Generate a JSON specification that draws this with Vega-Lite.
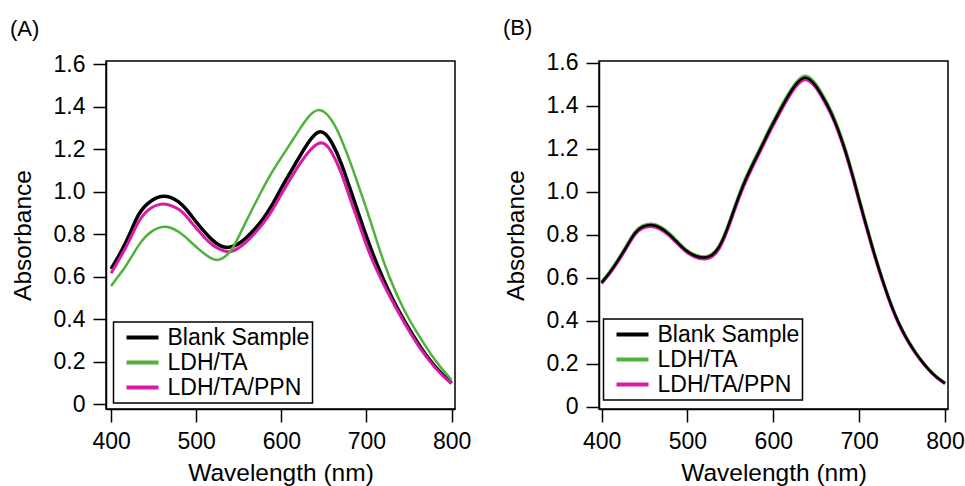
{
  "$schema": "https://vega.github.io/schema/vega-lite/v6.json",
  "background": "white",
  "padding": {"left": 9, "top": 15, "right": 2, "bottom": 5},
  "bounds": "flush",
  "spacing": 144,
  "resolve": {"scale": {"color": "independent"}, "legend": {"color": "independent"}},
  "hconcat": [
    {
      "title": {"text": "(A)"},
      "width": 349,
      "height": 348,
      "data": {"values": [
        {"s": "Blank Sample", "wl": 400, "a": 0.637}, {"s": "Blank Sample", "wl": 408, "a": 0.69}, {"s": "Blank Sample", "wl": 417, "a": 0.758}, {"s": "Blank Sample", "wl": 425, "a": 0.83}, {"s": "Blank Sample", "wl": 432, "a": 0.895}, {"s": "Blank Sample", "wl": 440, "a": 0.935}, {"s": "Blank Sample", "wl": 448, "a": 0.961}, {"s": "Blank Sample", "wl": 455, "a": 0.975}, {"s": "Blank Sample", "wl": 462, "a": 0.98}, {"s": "Blank Sample", "wl": 470, "a": 0.975}, {"s": "Blank Sample", "wl": 480, "a": 0.953}, {"s": "Blank Sample", "wl": 488, "a": 0.92}, {"s": "Blank Sample", "wl": 495, "a": 0.883}, {"s": "Blank Sample", "wl": 503, "a": 0.843}, {"s": "Blank Sample", "wl": 511, "a": 0.805}, {"s": "Blank Sample", "wl": 518, "a": 0.775}, {"s": "Blank Sample", "wl": 526, "a": 0.75}, {"s": "Blank Sample", "wl": 533, "a": 0.738}, {"s": "Blank Sample", "wl": 538, "a": 0.737}, {"s": "Blank Sample", "wl": 545, "a": 0.745}, {"s": "Blank Sample", "wl": 552, "a": 0.76}, {"s": "Blank Sample", "wl": 558, "a": 0.781}, {"s": "Blank Sample", "wl": 568, "a": 0.82}, {"s": "Blank Sample", "wl": 578, "a": 0.867}, {"s": "Blank Sample", "wl": 590, "a": 0.94}, {"s": "Blank Sample", "wl": 600, "a": 1.02}, {"s": "Blank Sample", "wl": 612, "a": 1.1}, {"s": "Blank Sample", "wl": 622, "a": 1.17}, {"s": "Blank Sample", "wl": 634, "a": 1.248}, {"s": "Blank Sample", "wl": 644, "a": 1.29}, {"s": "Blank Sample", "wl": 652, "a": 1.275}, {"s": "Blank Sample", "wl": 660, "a": 1.23}, {"s": "Blank Sample", "wl": 670, "a": 1.142}, {"s": "Blank Sample", "wl": 681, "a": 1.01}, {"s": "Blank Sample", "wl": 690, "a": 0.905}, {"s": "Blank Sample", "wl": 697, "a": 0.822}, {"s": "Blank Sample", "wl": 709, "a": 0.69}, {"s": "Blank Sample", "wl": 720, "a": 0.585}, {"s": "Blank Sample", "wl": 730, "a": 0.5}, {"s": "Blank Sample", "wl": 740, "a": 0.425}, {"s": "Blank Sample", "wl": 750, "a": 0.355}, {"s": "Blank Sample", "wl": 760, "a": 0.29}, {"s": "Blank Sample", "wl": 770, "a": 0.23}, {"s": "Blank Sample", "wl": 780, "a": 0.18}, {"s": "Blank Sample", "wl": 790, "a": 0.137}, {"s": "Blank Sample", "wl": 800, "a": 0.1},
        {"s": "LDH/TA/PPN", "wl": 400, "a": 0.617}, {"s": "LDH/TA/PPN", "wl": 408, "a": 0.672}, {"s": "LDH/TA/PPN", "wl": 417, "a": 0.734}, {"s": "LDH/TA/PPN", "wl": 425, "a": 0.8}, {"s": "LDH/TA/PPN", "wl": 432, "a": 0.86}, {"s": "LDH/TA/PPN", "wl": 440, "a": 0.903}, {"s": "LDH/TA/PPN", "wl": 448, "a": 0.928}, {"s": "LDH/TA/PPN", "wl": 455, "a": 0.939}, {"s": "LDH/TA/PPN", "wl": 462, "a": 0.944}, {"s": "LDH/TA/PPN", "wl": 470, "a": 0.937}, {"s": "LDH/TA/PPN", "wl": 480, "a": 0.918}, {"s": "LDH/TA/PPN", "wl": 488, "a": 0.888}, {"s": "LDH/TA/PPN", "wl": 495, "a": 0.852}, {"s": "LDH/TA/PPN", "wl": 503, "a": 0.815}, {"s": "LDH/TA/PPN", "wl": 511, "a": 0.778}, {"s": "LDH/TA/PPN", "wl": 518, "a": 0.752}, {"s": "LDH/TA/PPN", "wl": 526, "a": 0.732}, {"s": "LDH/TA/PPN", "wl": 533, "a": 0.72}, {"s": "LDH/TA/PPN", "wl": 541, "a": 0.716}, {"s": "LDH/TA/PPN", "wl": 548, "a": 0.73}, {"s": "LDH/TA/PPN", "wl": 558, "a": 0.758}, {"s": "LDH/TA/PPN", "wl": 568, "a": 0.8}, {"s": "LDH/TA/PPN", "wl": 578, "a": 0.846}, {"s": "LDH/TA/PPN", "wl": 590, "a": 0.915}, {"s": "LDH/TA/PPN", "wl": 600, "a": 0.99}, {"s": "LDH/TA/PPN", "wl": 612, "a": 1.07}, {"s": "LDH/TA/PPN", "wl": 622, "a": 1.135}, {"s": "LDH/TA/PPN", "wl": 634, "a": 1.2}, {"s": "LDH/TA/PPN", "wl": 645, "a": 1.236}, {"s": "LDH/TA/PPN", "wl": 652, "a": 1.225}, {"s": "LDH/TA/PPN", "wl": 658, "a": 1.197}, {"s": "LDH/TA/PPN", "wl": 670, "a": 1.1}, {"s": "LDH/TA/PPN", "wl": 681, "a": 0.963}, {"s": "LDH/TA/PPN", "wl": 690, "a": 0.865}, {"s": "LDH/TA/PPN", "wl": 697, "a": 0.781}, {"s": "LDH/TA/PPN", "wl": 707, "a": 0.673}, {"s": "LDH/TA/PPN", "wl": 720, "a": 0.565}, {"s": "LDH/TA/PPN", "wl": 730, "a": 0.488}, {"s": "LDH/TA/PPN", "wl": 740, "a": 0.415}, {"s": "LDH/TA/PPN", "wl": 750, "a": 0.345}, {"s": "LDH/TA/PPN", "wl": 760, "a": 0.28}, {"s": "LDH/TA/PPN", "wl": 770, "a": 0.225}, {"s": "LDH/TA/PPN", "wl": 780, "a": 0.175}, {"s": "LDH/TA/PPN", "wl": 790, "a": 0.132}, {"s": "LDH/TA/PPN", "wl": 800, "a": 0.097},
        {"s": "LDH/TA", "wl": 400, "a": 0.557}, {"s": "LDH/TA", "wl": 408, "a": 0.6}, {"s": "LDH/TA", "wl": 417, "a": 0.648}, {"s": "LDH/TA", "wl": 425, "a": 0.7}, {"s": "LDH/TA", "wl": 432, "a": 0.748}, {"s": "LDH/TA", "wl": 440, "a": 0.788}, {"s": "LDH/TA", "wl": 448, "a": 0.816}, {"s": "LDH/TA", "wl": 455, "a": 0.83}, {"s": "LDH/TA", "wl": 463, "a": 0.837}, {"s": "LDH/TA", "wl": 470, "a": 0.832}, {"s": "LDH/TA", "wl": 480, "a": 0.812}, {"s": "LDH/TA", "wl": 488, "a": 0.785}, {"s": "LDH/TA", "wl": 495, "a": 0.758}, {"s": "LDH/TA", "wl": 503, "a": 0.73}, {"s": "LDH/TA", "wl": 511, "a": 0.703}, {"s": "LDH/TA", "wl": 518, "a": 0.685}, {"s": "LDH/TA", "wl": 524, "a": 0.676}, {"s": "LDH/TA", "wl": 531, "a": 0.685}, {"s": "LDH/TA", "wl": 538, "a": 0.708}, {"s": "LDH/TA", "wl": 544, "a": 0.742}, {"s": "LDH/TA", "wl": 550, "a": 0.789}, {"s": "LDH/TA", "wl": 557, "a": 0.848}, {"s": "LDH/TA", "wl": 565, "a": 0.912}, {"s": "LDH/TA", "wl": 575, "a": 0.99}, {"s": "LDH/TA", "wl": 583, "a": 1.05}, {"s": "LDH/TA", "wl": 590, "a": 1.1}, {"s": "LDH/TA", "wl": 603, "a": 1.18}, {"s": "LDH/TA", "wl": 612, "a": 1.235}, {"s": "LDH/TA", "wl": 622, "a": 1.298}, {"s": "LDH/TA", "wl": 632, "a": 1.356}, {"s": "LDH/TA", "wl": 642, "a": 1.39}, {"s": "LDH/TA", "wl": 650, "a": 1.38}, {"s": "LDH/TA", "wl": 658, "a": 1.346}, {"s": "LDH/TA", "wl": 666, "a": 1.29}, {"s": "LDH/TA", "wl": 673, "a": 1.222}, {"s": "LDH/TA", "wl": 681, "a": 1.14}, {"s": "LDH/TA", "wl": 689, "a": 1.048}, {"s": "LDH/TA", "wl": 697, "a": 0.955}, {"s": "LDH/TA", "wl": 705, "a": 0.859}, {"s": "LDH/TA", "wl": 715, "a": 0.73}, {"s": "LDH/TA", "wl": 725, "a": 0.615}, {"s": "LDH/TA", "wl": 740, "a": 0.475}, {"s": "LDH/TA", "wl": 750, "a": 0.4}, {"s": "LDH/TA", "wl": 760, "a": 0.333}, {"s": "LDH/TA", "wl": 770, "a": 0.27}, {"s": "LDH/TA", "wl": 780, "a": 0.21}, {"s": "LDH/TA", "wl": 790, "a": 0.16}, {"s": "LDH/TA", "wl": 800, "a": 0.114}
      ]},
      "encoding": {
        "x": {"field": "wl", "type": "quantitative", "scale": {"domain": [394, 804], "nice": false, "zero": false}, "axis": {"values": [400, 500, 600, 700, 800], "title": "Wavelength (nm)"}},
        "y": {"field": "a", "type": "quantitative", "scale": {"domain": [-0.022, 1.615], "nice": false}, "axis": {"values": [0, 0.2, 0.4, 0.6, 0.8, 1.0, 1.2, 1.4, 1.6], "labelExpr": "datum.value == 0 ? '0' : format(datum.value, '.1f')", "title": "Absorbance"}},
        "color": {"field": "s", "type": "nominal", "scale": {"domain": ["Blank Sample", "LDH/TA", "LDH/TA/PPN"], "range": ["#000000", "#4fb23a", "#d91aaa"]}, "legend": {"orient": "none", "legendX": 7.5, "legendY": 261, "title": null}}
      },
      "layer": [
        {"transform": [{"filter": "datum.s == 'Blank Sample'"}], "mark": {"type": "line", "interpolate": "basis", "strokeWidth": 3.5}},
        {"transform": [{"filter": "datum.s == 'LDH/TA/PPN'"}], "mark": {"type": "line", "interpolate": "basis", "strokeWidth": 3}},
        {"transform": [{"filter": "datum.s == 'LDH/TA'"}], "mark": {"type": "line", "interpolate": "basis", "strokeWidth": 2.5}}
      ]
    },
    {
      "title": {"text": "(B)"},
      "width": 349,
      "height": 348,
      "data": {"values": [
        {"s": "LDH/TA", "wl": 400, "a": 0.58}, {"s": "LDH/TA", "wl": 410, "a": 0.629}, {"s": "LDH/TA", "wl": 419.5, "a": 0.686}, {"s": "LDH/TA", "wl": 430, "a": 0.755}, {"s": "LDH/TA", "wl": 439, "a": 0.819}, {"s": "LDH/TA", "wl": 448, "a": 0.845}, {"s": "LDH/TA", "wl": 458, "a": 0.853}, {"s": "LDH/TA", "wl": 468, "a": 0.84}, {"s": "LDH/TA", "wl": 478, "a": 0.811}, {"s": "LDH/TA", "wl": 488, "a": 0.77}, {"s": "LDH/TA", "wl": 497, "a": 0.733}, {"s": "LDH/TA", "wl": 508, "a": 0.704}, {"s": "LDH/TA", "wl": 520, "a": 0.694}, {"s": "LDH/TA", "wl": 528, "a": 0.704}, {"s": "LDH/TA", "wl": 536, "a": 0.737}, {"s": "LDH/TA", "wl": 544, "a": 0.806}, {"s": "LDH/TA", "wl": 552, "a": 0.897}, {"s": "LDH/TA", "wl": 560, "a": 0.987}, {"s": "LDH/TA", "wl": 567, "a": 1.058}, {"s": "LDH/TA", "wl": 577, "a": 1.143}, {"s": "LDH/TA", "wl": 587, "a": 1.222}, {"s": "LDH/TA", "wl": 596, "a": 1.298}, {"s": "LDH/TA", "wl": 606, "a": 1.373}, {"s": "LDH/TA", "wl": 614, "a": 1.432}, {"s": "LDH/TA", "wl": 622, "a": 1.485}, {"s": "LDH/TA", "wl": 628, "a": 1.516}, {"s": "LDH/TA", "wl": 635, "a": 1.542}, {"s": "LDH/TA", "wl": 642, "a": 1.535}, {"s": "LDH/TA", "wl": 649, "a": 1.506}, {"s": "LDH/TA", "wl": 658, "a": 1.448}, {"s": "LDH/TA", "wl": 668, "a": 1.373}, {"s": "LDH/TA", "wl": 676, "a": 1.293}, {"s": "LDH/TA", "wl": 684, "a": 1.2}, {"s": "LDH/TA", "wl": 692, "a": 1.09}, {"s": "LDH/TA", "wl": 699, "a": 0.985}, {"s": "LDH/TA", "wl": 707, "a": 0.867}, {"s": "LDH/TA", "wl": 715, "a": 0.752}, {"s": "LDH/TA", "wl": 723, "a": 0.645}, {"s": "LDH/TA", "wl": 731, "a": 0.547}, {"s": "LDH/TA", "wl": 738, "a": 0.468}, {"s": "LDH/TA", "wl": 746, "a": 0.391}, {"s": "LDH/TA", "wl": 754, "a": 0.328}, {"s": "LDH/TA", "wl": 762, "a": 0.274}, {"s": "LDH/TA", "wl": 771, "a": 0.222}, {"s": "LDH/TA", "wl": 781, "a": 0.174}, {"s": "LDH/TA", "wl": 790, "a": 0.138}, {"s": "LDH/TA", "wl": 800, "a": 0.111},
        {"s": "LDH/TA/PPN", "wl": 400, "a": 0.573}, {"s": "LDH/TA/PPN", "wl": 410, "a": 0.62}, {"s": "LDH/TA/PPN", "wl": 419.5, "a": 0.676}, {"s": "LDH/TA/PPN", "wl": 430, "a": 0.744}, {"s": "LDH/TA/PPN", "wl": 439, "a": 0.807}, {"s": "LDH/TA/PPN", "wl": 448, "a": 0.833}, {"s": "LDH/TA/PPN", "wl": 458, "a": 0.841}, {"s": "LDH/TA/PPN", "wl": 468, "a": 0.829}, {"s": "LDH/TA/PPN", "wl": 478, "a": 0.8}, {"s": "LDH/TA/PPN", "wl": 488, "a": 0.759}, {"s": "LDH/TA/PPN", "wl": 497, "a": 0.723}, {"s": "LDH/TA/PPN", "wl": 508, "a": 0.694}, {"s": "LDH/TA/PPN", "wl": 520, "a": 0.684}, {"s": "LDH/TA/PPN", "wl": 528, "a": 0.693}, {"s": "LDH/TA/PPN", "wl": 536, "a": 0.723}, {"s": "LDH/TA/PPN", "wl": 544, "a": 0.79}, {"s": "LDH/TA/PPN", "wl": 552, "a": 0.88}, {"s": "LDH/TA/PPN", "wl": 560, "a": 0.97}, {"s": "LDH/TA/PPN", "wl": 567, "a": 1.041}, {"s": "LDH/TA/PPN", "wl": 577, "a": 1.125}, {"s": "LDH/TA/PPN", "wl": 587, "a": 1.204}, {"s": "LDH/TA/PPN", "wl": 596, "a": 1.28}, {"s": "LDH/TA/PPN", "wl": 606, "a": 1.355}, {"s": "LDH/TA/PPN", "wl": 614, "a": 1.414}, {"s": "LDH/TA/PPN", "wl": 622, "a": 1.467}, {"s": "LDH/TA/PPN", "wl": 628, "a": 1.498}, {"s": "LDH/TA/PPN", "wl": 635, "a": 1.524}, {"s": "LDH/TA/PPN", "wl": 642, "a": 1.518}, {"s": "LDH/TA/PPN", "wl": 649, "a": 1.49}, {"s": "LDH/TA/PPN", "wl": 658, "a": 1.432}, {"s": "LDH/TA/PPN", "wl": 668, "a": 1.357}, {"s": "LDH/TA/PPN", "wl": 676, "a": 1.277}, {"s": "LDH/TA/PPN", "wl": 684, "a": 1.184}, {"s": "LDH/TA/PPN", "wl": 692, "a": 1.074}, {"s": "LDH/TA/PPN", "wl": 699, "a": 0.969}, {"s": "LDH/TA/PPN", "wl": 707, "a": 0.852}, {"s": "LDH/TA/PPN", "wl": 715, "a": 0.739}, {"s": "LDH/TA/PPN", "wl": 723, "a": 0.633}, {"s": "LDH/TA/PPN", "wl": 731, "a": 0.537}, {"s": "LDH/TA/PPN", "wl": 738, "a": 0.459}, {"s": "LDH/TA/PPN", "wl": 746, "a": 0.383}, {"s": "LDH/TA/PPN", "wl": 754, "a": 0.321}, {"s": "LDH/TA/PPN", "wl": 762, "a": 0.268}, {"s": "LDH/TA/PPN", "wl": 771, "a": 0.217}, {"s": "LDH/TA/PPN", "wl": 781, "a": 0.169}, {"s": "LDH/TA/PPN", "wl": 790, "a": 0.134}, {"s": "LDH/TA/PPN", "wl": 800, "a": 0.107},
        {"s": "Blank Sample", "wl": 400, "a": 0.577}, {"s": "Blank Sample", "wl": 410, "a": 0.625}, {"s": "Blank Sample", "wl": 419.5, "a": 0.682}, {"s": "Blank Sample", "wl": 430, "a": 0.75}, {"s": "Blank Sample", "wl": 439, "a": 0.814}, {"s": "Blank Sample", "wl": 448, "a": 0.84}, {"s": "Blank Sample", "wl": 458, "a": 0.848}, {"s": "Blank Sample", "wl": 468, "a": 0.835}, {"s": "Blank Sample", "wl": 478, "a": 0.806}, {"s": "Blank Sample", "wl": 488, "a": 0.765}, {"s": "Blank Sample", "wl": 497, "a": 0.729}, {"s": "Blank Sample", "wl": 508, "a": 0.7}, {"s": "Blank Sample", "wl": 520, "a": 0.69}, {"s": "Blank Sample", "wl": 528, "a": 0.7}, {"s": "Blank Sample", "wl": 536, "a": 0.732}, {"s": "Blank Sample", "wl": 544, "a": 0.8}, {"s": "Blank Sample", "wl": 552, "a": 0.89}, {"s": "Blank Sample", "wl": 560, "a": 0.98}, {"s": "Blank Sample", "wl": 567, "a": 1.051}, {"s": "Blank Sample", "wl": 577, "a": 1.135}, {"s": "Blank Sample", "wl": 587, "a": 1.214}, {"s": "Blank Sample", "wl": 596, "a": 1.29}, {"s": "Blank Sample", "wl": 606, "a": 1.365}, {"s": "Blank Sample", "wl": 614, "a": 1.424}, {"s": "Blank Sample", "wl": 622, "a": 1.477}, {"s": "Blank Sample", "wl": 628, "a": 1.508}, {"s": "Blank Sample", "wl": 635, "a": 1.534}, {"s": "Blank Sample", "wl": 642, "a": 1.527}, {"s": "Blank Sample", "wl": 649, "a": 1.498}, {"s": "Blank Sample", "wl": 658, "a": 1.44}, {"s": "Blank Sample", "wl": 668, "a": 1.365}, {"s": "Blank Sample", "wl": 676, "a": 1.285}, {"s": "Blank Sample", "wl": 684, "a": 1.192}, {"s": "Blank Sample", "wl": 692, "a": 1.082}, {"s": "Blank Sample", "wl": 699, "a": 0.977}, {"s": "Blank Sample", "wl": 707, "a": 0.86}, {"s": "Blank Sample", "wl": 715, "a": 0.746}, {"s": "Blank Sample", "wl": 723, "a": 0.64}, {"s": "Blank Sample", "wl": 731, "a": 0.543}, {"s": "Blank Sample", "wl": 738, "a": 0.464}, {"s": "Blank Sample", "wl": 746, "a": 0.388}, {"s": "Blank Sample", "wl": 754, "a": 0.325}, {"s": "Blank Sample", "wl": 762, "a": 0.272}, {"s": "Blank Sample", "wl": 771, "a": 0.22}, {"s": "Blank Sample", "wl": 781, "a": 0.172}, {"s": "Blank Sample", "wl": 790, "a": 0.136}, {"s": "Blank Sample", "wl": 800, "a": 0.109}
      ]},
      "encoding": {
        "x": {"field": "wl", "type": "quantitative", "scale": {"domain": [397, 803.5], "nice": false, "zero": false}, "axis": {"values": [400, 500, 600, 700, 800], "title": "Wavelength (nm)"}},
        "y": {"field": "a", "type": "quantitative", "scale": {"domain": [-0.011, 1.608], "nice": false}, "axis": {"values": [0, 0.2, 0.4, 0.6, 0.8, 1.0, 1.2, 1.4, 1.6], "labelExpr": "datum.value == 0 ? '0' : format(datum.value, '.1f')", "title": "Absorbance"}},
        "color": {"field": "s", "type": "nominal", "scale": {"domain": ["Blank Sample", "LDH/TA", "LDH/TA/PPN"], "range": ["#000000", "#4fb23a", "#d91aaa"]}, "legend": {"orient": "none", "legendX": 4.5, "legendY": 258, "title": null}}
      },
      "layer": [
        {"transform": [{"filter": "datum.s == 'LDH/TA'"}], "mark": {"type": "line", "interpolate": "basis", "strokeWidth": 3}},
        {"transform": [{"filter": "datum.s == 'LDH/TA/PPN'"}], "mark": {"type": "line", "interpolate": "basis", "strokeWidth": 3}},
        {"transform": [{"filter": "datum.s == 'Blank Sample'"}], "mark": {"type": "line", "interpolate": "basis", "strokeWidth": 2.5}}
      ]
    }
  ],
  "config": {
    "font": "Liberation Sans",
    "view": {"stroke": "black", "strokeWidth": 1.5},
    "axis": {"grid": false, "domainColor": "black", "domainWidth": 1.5, "tickColor": "black", "tickWidth": 1.5, "tickSize": 13, "labelFontSize": 23, "labelColor": "black", "labelFlush": false, "labelOverlap": false, "labelPadding": 8, "titleFontSize": 24.5, "titleFontWeight": "normal", "titleColor": "black"},
    "axisX": {"titlePadding": 8},
    "axisY": {"titlePadding": 18},
    "legend": {"strokeColor": "black", "strokeWidth": 1.5, "fillColor": "white", "padding": 3, "symbolType": "stroke", "symbolSize": 1024, "symbolStrokeWidth": 4, "symbolOffset": 8, "labelFontSize": 23, "labelColor": "black", "labelOffset": 7, "rowPadding": 0, "clipHeight": 25, "labelLimit": 400},
    "title": {"fontSize": 22, "fontWeight": "normal", "color": "black", "anchor": "start", "frame": "bounds", "offset": 12}
  }
}
